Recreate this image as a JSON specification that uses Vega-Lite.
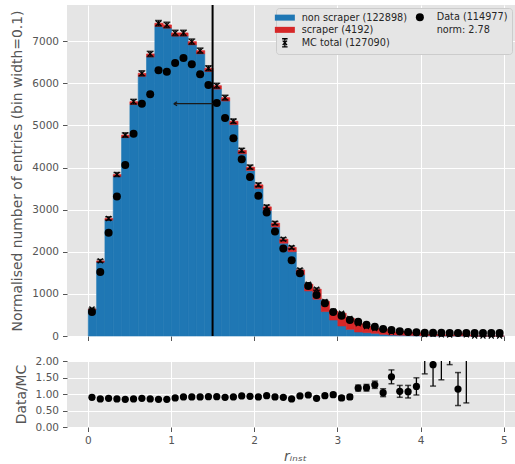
{
  "$schema": "https://vega.github.io/schema/vega-lite/v6.json",
  "padding": {"left": 10, "top": 4, "right": 0, "bottom": 0},
  "background": "white",
  "spacing": 14,
  "datasets": {
    "bins": [
      {"lo":0.0,"hi":0.1,"c":0.05,"ns":625,"sc":15,"mc":640,"mcerr":20,"data":570,"ratio":0.90,"rerr":0.05},
      {"lo":0.1,"hi":0.2,"c":0.15,"ns":1753,"sc":30,"mc":1783,"mcerr":32,"data":1522,"ratio":0.85,"rerr":0.03},
      {"lo":0.2,"hi":0.3,"c":0.25,"ns":2751,"sc":40,"mc":2791,"mcerr":40,"data":2449,"ratio":0.87,"rerr":0.025},
      {"lo":0.3,"hi":0.4,"c":0.35,"ns":3785,"sc":50,"mc":3835,"mcerr":46,"data":3314,"ratio":0.85,"rerr":0.02},
      {"lo":0.4,"hi":0.5,"c":0.45,"ns":4712,"sc":60,"mc":4772,"mcerr":52,"data":4058,"ratio":0.84,"rerr":0.02},
      {"lo":0.5,"hi":0.6,"c":0.55,"ns":5499,"sc":65,"mc":5564,"mcerr":56,"data":4803,"ratio":0.85,"rerr":0.02},
      {"lo":0.6,"hi":0.7,"c":0.65,"ns":6168,"sc":70,"mc":6238,"mcerr":60,"data":5516,"ratio":0.87,"rerr":0.02},
      {"lo":0.7,"hi":0.8,"c":0.75,"ns":6628,"sc":70,"mc":6698,"mcerr":62,"data":5739,"ratio":0.85,"rerr":0.02},
      {"lo":0.8,"hi":0.9,"c":0.85,"ns":7352,"sc":75,"mc":7427,"mcerr":65,"data":6310,"ratio":0.84,"rerr":0.02},
      {"lo":0.9,"hi":1.0,"c":0.95,"ns":7312,"sc":75,"mc":7387,"mcerr":65,"data":6277,"ratio":0.84,"rerr":0.02},
      {"lo":1.0,"hi":1.1,"c":1.05,"ns":7122,"sc":75,"mc":7197,"mcerr":64,"data":6484,"ratio":0.88,"rerr":0.02},
      {"lo":1.1,"hi":1.2,"c":1.15,"ns":7122,"sc":75,"mc":7197,"mcerr":64,"data":6603,"ratio":0.91,"rerr":0.02},
      {"lo":1.2,"hi":1.3,"c":1.25,"ns":6915,"sc":75,"mc":6990,"mcerr":63,"data":6453,"ratio":0.91,"rerr":0.02},
      {"lo":1.3,"hi":1.4,"c":1.35,"ns":6701,"sc":75,"mc":6776,"mcerr":62,"data":6215,"ratio":0.91,"rerr":0.02},
      {"lo":1.4,"hi":1.5,"c":1.45,"ns":6283,"sc":75,"mc":6358,"mcerr":60,"data":5960,"ratio":0.92,"rerr":0.02},
      {"lo":1.5,"hi":1.6,"c":1.55,"ns":5864,"sc":80,"mc":5944,"mcerr":58,"data":5533,"ratio":0.92,"rerr":0.02},
      {"lo":1.6,"hi":1.7,"c":1.65,"ns":5580,"sc":80,"mc":5660,"mcerr":57,"data":5176,"ratio":0.90,"rerr":0.02},
      {"lo":1.7,"hi":1.8,"c":1.75,"ns":5020,"sc":80,"mc":5100,"mcerr":54,"data":4693,"ratio":0.91,"rerr":0.02},
      {"lo":1.8,"hi":1.9,"c":1.85,"ns":4327,"sc":80,"mc":4407,"mcerr":50,"data":4198,"ratio":0.94,"rerr":0.02},
      {"lo":1.9,"hi":2.0,"c":1.95,"ns":3931,"sc":80,"mc":4011,"mcerr":48,"data":3773,"ratio":0.93,"rerr":0.02},
      {"lo":2.0,"hi":2.1,"c":2.05,"ns":3505,"sc":85,"mc":3590,"mcerr":45,"data":3329,"ratio":0.91,"rerr":0.025},
      {"lo":2.1,"hi":2.2,"c":2.15,"ns":2982,"sc":85,"mc":3067,"mcerr":42,"data":2934,"ratio":0.95,"rerr":0.025},
      {"lo":2.2,"hi":2.3,"c":2.25,"ns":2590,"sc":90,"mc":2680,"mcerr":39,"data":2482,"ratio":0.91,"rerr":0.03},
      {"lo":2.3,"hi":2.4,"c":2.35,"ns":2204,"sc":95,"mc":2299,"mcerr":36,"data":2078,"ratio":0.90,"rerr":0.03},
      {"lo":2.4,"hi":2.5,"c":2.45,"ns":2002,"sc":100,"mc":2102,"mcerr":35,"data":1800,"ratio":0.85,"rerr":0.03},
      {"lo":2.5,"hi":2.6,"c":2.55,"ns":1459,"sc":110,"mc":1569,"mcerr":30,"data":1491,"ratio":0.94,"rerr":0.035},
      {"lo":2.6,"hi":2.7,"c":2.65,"ns":1070,"sc":159,"mc":1229,"mcerr":27,"data":1189,"ratio":0.97,"rerr":0.04},
      {"lo":2.7,"hi":2.8,"c":2.75,"ns":873,"sc":240,"mc":1113,"mcerr":26,"data":975,"ratio":0.87,"rerr":0.04},
      {"lo":2.8,"hi":2.9,"c":2.85,"ns":580,"sc":240,"mc":820,"mcerr":22,"data":775,"ratio":0.95,"rerr":0.05},
      {"lo":2.9,"hi":3.0,"c":2.95,"ns":380,"sc":210,"mc":590,"mcerr":19,"data":570,"ratio":0.98,"rerr":0.06},
      {"lo":3.0,"hi":3.1,"c":3.05,"ns":238,"sc":302,"mc":540,"mcerr":18,"data":478,"ratio":0.88,"rerr":0.06},
      {"lo":3.1,"hi":3.2,"c":3.15,"ns":159,"sc":259,"mc":418,"mcerr":16,"data":380,"ratio":0.91,"rerr":0.07},
      {"lo":3.2,"hi":3.3,"c":3.25,"ns":95,"sc":195,"mc":290,"mcerr":13,"data":338,"ratio":1.18,"rerr":0.09},
      {"lo":3.3,"hi":3.4,"c":3.35,"ns":81,"sc":144,"mc":225,"mcerr":11,"data":265,"ratio":1.19,"rerr":0.10},
      {"lo":3.4,"hi":3.5,"c":3.45,"ns":64,"sc":110,"mc":174,"mcerr":10,"data":222,"ratio":1.28,"rerr":0.11},
      {"lo":3.5,"hi":3.6,"c":3.55,"ns":40,"sc":119,"mc":159,"mcerr":9,"data":165,"ratio":1.04,"rerr":0.12},
      {"lo":3.6,"hi":3.7,"c":3.65,"ns":25,"sc":69,"mc":94,"mcerr":8,"data":143,"ratio":1.52,"rerr":0.21},
      {"lo":3.7,"hi":3.8,"c":3.75,"ns":20,"sc":84,"mc":104,"mcerr":8,"data":112,"ratio":1.08,"rerr":0.18},
      {"lo":3.8,"hi":3.9,"c":3.85,"ns":15,"sc":74,"mc":89,"mcerr":7,"data":95,"ratio":1.07,"rerr":0.19},
      {"lo":3.9,"hi":4.0,"c":3.95,"ns":10,"sc":62,"mc":72,"mcerr":7,"data":88,"ratio":1.23,"rerr":0.26},
      {"lo":4.0,"hi":4.1,"c":4.05,"ns":8,"sc":27,"mc":35,"mcerr":12,"data":79,"ratio":2.25,"rerr":0.64},
      {"lo":4.1,"hi":4.2,"c":4.15,"ns":5,"sc":35,"mc":40,"mcerr":13,"data":76,"ratio":1.89,"rerr":0.65},
      {"lo":4.2,"hi":4.3,"c":4.25,"ns":4,"sc":24,"mc":28,"mcerr":12,"data":75,"ratio":2.6,"rerr":1.17},
      {"lo":4.3,"hi":4.4,"c":4.35,"ns":3,"sc":21,"mc":24,"mcerr":11,"data":74,"ratio":3.0,"rerr":1.11},
      {"lo":4.4,"hi":4.5,"c":4.45,"ns":3,"sc":60,"mc":63,"mcerr":25,"data":73,"ratio":1.15,"rerr":0.5},
      {"lo":4.5,"hi":4.6,"c":4.55,"ns":2,"sc":24,"mc":26,"mcerr":15,"data":73,"ratio":2.8,"rerr":2.07},
      {"lo":4.6,"hi":4.7,"c":4.65,"ns":0,"sc":0,"mc":0,"mcerr":0,"data":72,"ratio":null,"rerr":null},
      {"lo":4.7,"hi":4.8,"c":4.75,"ns":0,"sc":0,"mc":0,"mcerr":0,"data":72,"ratio":null,"rerr":null},
      {"lo":4.8,"hi":4.9,"c":4.85,"ns":0,"sc":0,"mc":0,"mcerr":0,"data":71,"ratio":null,"rerr":null},
      {"lo":4.9,"hi":5.0,"c":4.95,"ns":0,"sc":0,"mc":0,"mcerr":0,"data":71,"ratio":null,"rerr":null}
    ],
    "cut": [{"cut": 1.5}],
    "arrow": [{"from": 1.5, "to": 1.034, "ya": 5516}]
  },
  "vconcat": [
    {
      "width": 448,
      "height": 331,
      "layer": [
        {
          "data": {"name": "bins"},
          "transform": [{"fold": ["ns", "sc"], "as": ["comp", "n"]}],
          "mark": {"type": "bar", "binSpacing": 0, "strokeWidth": 0.6},
          "encoding": {
            "x": {"field": "lo", "type": "quantitative", "bin": {"binned": true, "step": 0.1}, "title": null,
                  "scale": {"domain": [-0.25, 5.135], "nice": false, "zero": false},
                  "axis": {"values": [0, 1, 2, 3, 4, 5], "labels": false}},
            "x2": {"field": "hi"},
            "y": {"field": "n", "type": "quantitative", "stack": "zero",
                  "title": "Normalised number of entries (bin width=0.1)",
                  "scale": {"domain": [0, 7860], "nice": false},
                  "axis": {"values": [0, 1000, 2000, 3000, 4000, 5000, 6000, 7000], "format": "d"}},
            "color": {
              "field": "comp", "type": "nominal",
              "scale": {"domain": ["ns", "sc", "mc", "data", "norm"],
                        "range": ["#1f77b4", "#d62728", "#000000", "#000000", "rgba(0,0,0,0)"]},
              "legend": {
                "orient": "none", "legendX": 209, "legendY": 3, "columns": 2, "title": null,
                "labelExpr": "datum.label === 'ns' ? 'non scraper (122898)' : datum.label === 'sc' ? 'scraper (4192)' : datum.label === 'mc' ? 'MC total (127090)' : datum.label === 'data' ? 'Data (114977)' : 'norm: 2.78'",
                "labelFontSize": 9.7, "labelColor": "#262626", "labelFont": "DejaVu Sans",
                "fillColor": "#E5E5E5", "strokeColor": "#CCCCCC", "padding": 4, "cornerRadius": 3,
                "rowPadding": 0, "columnPadding": 6, "symbolSize": 100, "labelOffset": 12,
                "encode": {
                  "symbols": {
                    "update": {
                      "shape": {"signal": "datum.value === 'ns' || datum.value === 'sc' ? 'M-1,-0.3H1V0.3H-1Z' : datum.value === 'mc' ? 'M-0.5,-0.75H0.5M-0.5,0.75H0.5M0,-0.75V0.75M-0.4,-0.4L0.4,0.4M-0.4,0.4L0.4,-0.4' : 'circle'"},
                      "size": {"signal": "datum.value === 'ns' || datum.value === 'sc' ? 400 : datum.value === 'mc' ? 120 : datum.value === 'data' ? 64 : 0"},
                      "fill": {"signal": "datum.value === 'ns' ? '#1f77b4' : datum.value === 'sc' ? '#d62728' : datum.value === 'data' ? '#000000' : 'transparent'"},
                      "stroke": {"signal": "datum.value === 'mc' ? '#000000' : 'transparent'"},
                      "strokeWidth": {"value": 1.3},
                      "opacity": {"value": 1}
                    }
                  }
                }
              }
            },
            "stroke": {
              "field": "comp", "type": "nominal", "legend": null,
              "scale": {"domain": ["ns", "sc"], "range": ["#1f77b4", "#d62728"]}
            },
            "order": {"field": "comp", "sort": "ascending"}
          }
        },
        {
          "data": {"name": "bins"},
          "mark": {"type": "errorbar", "color": "#000000", "thickness": 1.3, "ticks": {"size": 7, "thickness": 1.5}},
          "encoding": {
            "x": {"field": "c", "type": "quantitative", "title": null},
            "y": {"field": "mc", "type": "quantitative", "title": "Normalised number of entries (bin width=0.1)"},
            "yError": {"field": "mcerr"}
          }
        },
        {
          "data": {"name": "bins"},
          "mark": {"type": "point", "shape": "M-1,-1L1,1M-1,1L1,-1", "filled": false, "color": "#000000", "strokeWidth": 1.2, "size": 25, "opacity": 1},
          "encoding": {
            "x": {"field": "c", "type": "quantitative", "title": null},
            "y": {"field": "mc", "type": "quantitative", "title": "Normalised number of entries (bin width=0.1)"}
          }
        },
        {
          "data": {"name": "bins"},
          "mark": {"type": "point", "filled": true, "color": "#000000", "size": 64, "opacity": 1},
          "encoding": {
            "x": {"field": "c", "type": "quantitative", "title": null},
            "y": {"field": "data", "type": "quantitative", "title": "Normalised number of entries (bin width=0.1)"}
          }
        },
        {
          "data": {"name": "cut"},
          "mark": {"type": "rule", "color": "#000000", "strokeWidth": 2},
          "encoding": {"x": {"field": "cut", "type": "quantitative", "title": null}}
        },
        {
          "data": {"name": "arrow"},
          "mark": {"type": "rule", "color": "#1a1a1a", "strokeWidth": 1.3},
          "encoding": {
            "x": {"field": "from", "type": "quantitative", "title": null},
            "x2": {"field": "to"},
            "y": {"field": "ya", "type": "quantitative", "title": "Normalised number of entries (bin width=0.1)"}
          }
        },
        {
          "data": {"name": "arrow"},
          "mark": {"type": "point", "shape": "M0,0L1.3,-0.8M0,0L1.3,0.8", "filled": false, "color": "#1a1a1a", "strokeWidth": 1.3, "size": 25, "opacity": 1},
          "encoding": {
            "x": {"field": "to", "type": "quantitative", "title": null},
            "y": {"field": "ya", "type": "quantitative", "title": "Normalised number of entries (bin width=0.1)"}
          }
        }
      ]
    },
    {
      "width": 448,
      "height": 66,
      "data": {"name": "bins"},
      "transform": [{"filter": "isValid(datum.ratio)"}],
      "encoding": {
        "x": {"field": "c", "type": "quantitative", "title": "rᵢₙₛₜ",
              "scale": {"domain": [-0.25, 5.135], "nice": false, "zero": false},
              "axis": {"values": [0, 1, 2, 3, 4, 5], "format": "d", "grid": true,
                       "titleFontStyle": "italic", "titlePadding": 3, "titleX": 228}},
        "y": {"field": "ratio", "type": "quantitative", "title": "Data/MC",
              "scale": {"domain": [0, 2], "nice": false},
              "axis": {"values": [0, 0.5, 1, 1.5, 2], "format": ".2f", "labelOverlap": false, "grid": true}}
      },
      "layer": [
        {
          "mark": {"type": "errorbar", "color": "#000000", "thickness": 1.3, "ticks": {"size": 6, "thickness": 1.5}, "clip": true},
          "encoding": {"yError": {"field": "rerr"}}
        },
        {
          "mark": {"type": "point", "filled": true, "color": "#000000", "size": 52, "opacity": 1, "clip": true}
        }
      ]
    }
  ],
  "config": {
    "font": "DejaVu Sans",
    "view": {"fill": "#E5E5E5", "stroke": null},
    "axis": {
      "domain": false, "grid": true, "gridColor": "#FFFFFF", "gridWidth": 1,
      "tickColor": "#555555", "tickSize": 4.5, "tickWidth": 1,
      "labelColor": "#555555", "labelFontSize": 10.5, "labelPadding": 4, "labelFont": "DejaVu Sans",
      "titleColor": "#555555", "titleFontSize": 13.9, "titleFontWeight": "normal", "titleFont": "DejaVu Sans"
    },
    "axisY": {"titlePadding": 7}
  }
}
